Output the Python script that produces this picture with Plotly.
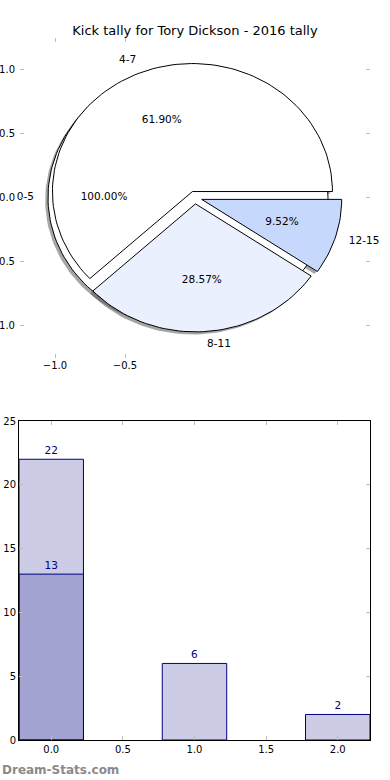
import numpy as np
import plotly.graph_objects as go

# ---- data ----
title = "Kick tally for Tory Dickson - 2016 tally"
full_label = ["0-5"]
full_values = [22]
pie_labels = ["4-7", "8-11", "12-15"]
pie_values = [13, 6, 2]
pie_colors = ["#FFFFFF", "#EAF0FD", "#C6D9FD"]
explode = 0.05

bar_x = [0, 1, 2]
bar_total = [22, 6, 2]
bar_sub_x = [0]
bar_sub = [13]

FONT = "DejaVu Sans"
fig = go.Figure()


def wedge_xy(cx, cy, t1, t2, full=False):
    n = max(int(abs(t2 - t1) / 2), 4)
    th = np.radians(np.linspace(t1, t2, n + 1))
    xs = cx + np.cos(th)
    ys = cy + np.sin(th)
    if full:
        return list(xs), list(ys)
    return [cx] + list(xs) + [cx], [cy] + list(ys) + [cy]


def pie_geometry(values):
    tot = float(sum(values))
    out = []
    a = 0.0
    for v in values:
        frac = v / tot
        t1, t2 = a, a + 360 * frac
        mid = np.radians((t1 + t2) / 2)
        cx, cy = explode * np.cos(mid), explode * np.sin(mid)
        out.append((t1, t2, mid, cx, cy, frac))
        a = t2
    return out


geo_full = pie_geometry(full_values)
geo = pie_geometry(pie_values)

# shadows
for (t1, t2, mid, cx, cy, frac), full in [(g, True) for g in geo_full] + [(g, False) for g in geo]:
    xs, ys = wedge_xy(cx - 0.02, cy - 0.02, t1, t2, full=full)
    fig.add_trace(go.Scatter(x=xs, y=ys, fill="toself", mode="lines",
                             line=dict(width=0), fillcolor="rgba(77,77,77,0.5)",
                             hoverinfo="skip", showlegend=False, xaxis="x", yaxis="y"))

# full pie
for (t1, t2, mid, cx, cy, frac) in geo_full:
    xs, ys = wedge_xy(cx, cy, t1, t2, full=True)
    fig.add_trace(go.Scatter(x=xs, y=ys, fill="toself", mode="lines",
                             line=dict(width=1, color="black"), fillcolor="white",
                             hoverinfo="skip", showlegend=False, xaxis="x", yaxis="y"))
# wedges
for (t1, t2, mid, cx, cy, frac), col in zip(geo, pie_colors):
    xs, ys = wedge_xy(cx, cy, t1, t2)
    fig.add_trace(go.Scatter(x=xs, y=ys, fill="toself", mode="lines",
                             line=dict(width=1, color="black"), fillcolor=col,
                             hoverinfo="skip", showlegend=False, xaxis="x", yaxis="y"))

# texts
for labels, g in [(full_label, geo_full), (pie_labels, geo)]:
    for lab, (t1, t2, mid, cx, cy, frac) in zip(labels, g):
        lx, ly = cx + 1.1 * np.cos(mid), cy + 1.1 * np.sin(mid)
        px, py = cx + 0.6 * np.cos(mid), cy + 0.6 * np.sin(mid)
        pos = "middle right" if lx > 0 else "middle left"
        fig.add_trace(go.Scatter(x=[lx], y=[ly], mode="text", text=[lab], textposition=pos,
                                 textfont=dict(family=FONT, size=10.5, color="black"),
                                 hoverinfo="skip", showlegend=False, xaxis="x", yaxis="y", cliponaxis=False))
        fig.add_trace(go.Scatter(x=[px], y=[py], mode="text", text=["%.2f%%" % (frac * 100)],
                                 textposition="middle center",
                                 textfont=dict(family=FONT, size=10.5, color="black"),
                                 hoverinfo="skip", showlegend=False, xaxis="x", yaxis="y", cliponaxis=False))

# bars
bar_fill = "rgba(0,0,128,0.2)"
fig.add_trace(go.Bar(x=bar_x, y=bar_total, width=0.45, marker=dict(color=bar_fill, line=dict(color="navy", width=1)),
                     text=[str(v) for v in bar_total], textposition="outside",
                     textfont=dict(family=FONT, size=10.5, color="navy"), cliponaxis=False,
                     showlegend=False, xaxis="x2", yaxis="y2"))
fig.add_trace(go.Bar(x=bar_sub_x, y=bar_sub, width=0.45, marker=dict(color=bar_fill, line=dict(color="navy", width=1)),
                     text=[str(v) for v in bar_sub], textposition="outside",
                     textfont=dict(family=FONT, size=10.5, color="navy"), cliponaxis=False,
                     showlegend=False, xaxis="x2", yaxis="y2"))

W, H = 390, 780
tickfont = dict(family=FONT, size=10, color="black")
fig.update_layout(
    width=W, height=H, margin=dict(l=0, r=0, t=0, b=0),
    paper_bgcolor="white", plot_bgcolor="rgba(0,0,0,0)",
    barmode="overlay", showlegend=False,
    title=dict(text=title, x=0.5, xanchor="center", y=1 - 30 / H, yanchor="middle",
               font=dict(family=FONT, size=13, color="black")),
    xaxis=dict(domain=[20 / W, 370 / W], range=[-1.25, 1.25], tickvals=[-1.0, -0.5], tickformat=".1f",
               showgrid=False, zeroline=False, showline=False, ticks="inside", ticklen=4,
               tickcolor="#bbbbbb", mirror="ticks", tickfont=tickfont, anchor="y", automargin=False),
    yaxis=dict(domain=[1 - 357.5 / H, 1 - 37.5 / H], range=[-1.25, 1.25],
               tickvals=[-1.0, -0.5, 0.0, 0.5, 1.0], tickformat=".1f", ticklabelstandoff=4,
               showgrid=False, zeroline=False, showline=False, ticks="inside", ticklen=4,
               tickcolor="#bbbbbb", mirror="ticks", tickfont=tickfont, anchor="x", automargin=False),
    xaxis2=dict(domain=[19 / W, 370 / W], range=[-0.225, 2.225], tickvals=[0, 0.5, 1.0, 1.5, 2.0],
                tickformat=".1f", showgrid=False, zeroline=False, showline=True, linecolor="black",
                linewidth=1, ticks="inside", ticklen=4, tickcolor="#bbbbbb", mirror="allticks",
                tickfont=tickfont, anchor="y2", automargin=False),
    yaxis2=dict(domain=[1 - 740 / H, 1 - 421 / H], range=[0, 25], tickvals=[0, 5, 10, 15, 20, 25],
                showgrid=False, zeroline=False, showline=True, linecolor="black",
                linewidth=1, ticks="inside", ticklen=4, tickcolor="#bbbbbb", mirror="allticks",
                tickfont=tickfont, anchor="x2", automargin=False),
    annotations=[dict(text="<b>Dream-Stats.com</b>", x=0, y=1 - 770 / H, xref="paper", yref="paper",
                      xanchor="left", yanchor="middle", showarrow=False,
                      font=dict(family=FONT, size=12, color="#8a8a8a"))],
)

fig.write_html("out.html", config={"displayModeBar": False},
               post_script="document.body.style.margin='0';document.body.style.padding='0';")
